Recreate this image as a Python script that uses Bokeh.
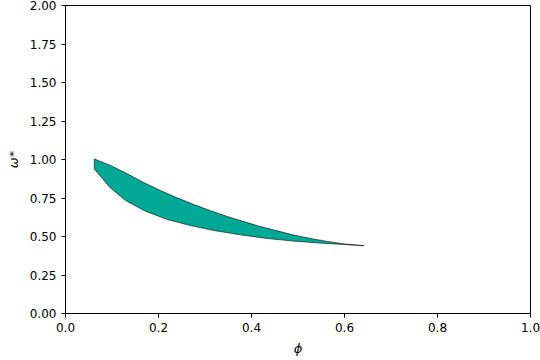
from bokeh.plotting import figure
from bokeh.models import FixedTicker, NumeralTickFormatter, Range1d
from bokeh.embed import file_html
from bokeh.resources import INLINE

# Upper boundary of the region
phi_upper = [0.062, 0.097, 0.133, 0.169, 0.204, 0.240, 0.276, 0.312, 0.348,
             0.383, 0.419, 0.455, 0.491, 0.527, 0.563, 0.599, 0.642]
omega_upper = [1.004, 0.961, 0.907, 0.849, 0.799, 0.751, 0.708, 0.667, 0.630,
               0.597, 0.565, 0.537, 0.509, 0.487, 0.468, 0.452, 0.440]

# Lower boundary of the region
phi_lower = [0.062, 0.095, 0.129, 0.172, 0.219, 0.269, 0.319, 0.376, 0.434,
             0.491, 0.548, 0.599, 0.642]
omega_lower = [0.939, 0.820, 0.734, 0.664, 0.610, 0.571, 0.539, 0.511, 0.487,
               0.470, 0.457, 0.448, 0.440]

x_ticks = [0.0, 0.2, 0.4, 0.6, 0.8, 1.0]
y_ticks = [0.0, 0.25, 0.5, 0.75, 1.0, 1.25, 1.5, 1.75, 2.0]

xs = phi_upper + phi_lower[::-1]
ys = omega_upper + omega_lower[::-1]

p = figure(width=540, height=360, output_backend="svg", toolbar_location=None,
           x_range=Range1d(0, 1), y_range=Range1d(0, 2),
           min_border_left=65, min_border_right=10, min_border_top=5,
           min_border_bottom=47)

p.patch(xs, ys, fill_color="#00a896", line_color="black", line_width=0.6)

p.xgrid.visible = False
p.ygrid.visible = False
p.outline_line_color = "black"
p.outline_line_width = 1

p.xaxis.ticker = FixedTicker(ticks=x_ticks)
p.yaxis.ticker = FixedTicker(ticks=y_ticks)
p.xaxis.formatter = NumeralTickFormatter(format="0.0")
p.yaxis.formatter = NumeralTickFormatter(format="0.00")

for ax in [p.xaxis[0], p.yaxis[0]]:
    ax.major_tick_in = 0
    ax.major_tick_out = 4
    ax.minor_tick_line_color = None
    ax.axis_line_color = "black"
    ax.major_tick_line_color = "black"
    ax.major_label_text_font = "DejaVu Sans"
    ax.major_label_text_font_size = "12px"
    ax.major_label_text_color = "black"
    ax.axis_label_text_font = "DejaVu Sans"
    ax.axis_label_text_font_size = "13px"
    ax.axis_label_text_font_style = "italic"
    ax.axis_label_text_color = "black"

p.xaxis.axis_label = "ϕ"
p.yaxis.axis_label = "ω*"
p.xaxis.axis_label_standoff = 6
p.yaxis.axis_label_standoff = 6

open("out.html", "w").write(file_html(p, INLINE))
